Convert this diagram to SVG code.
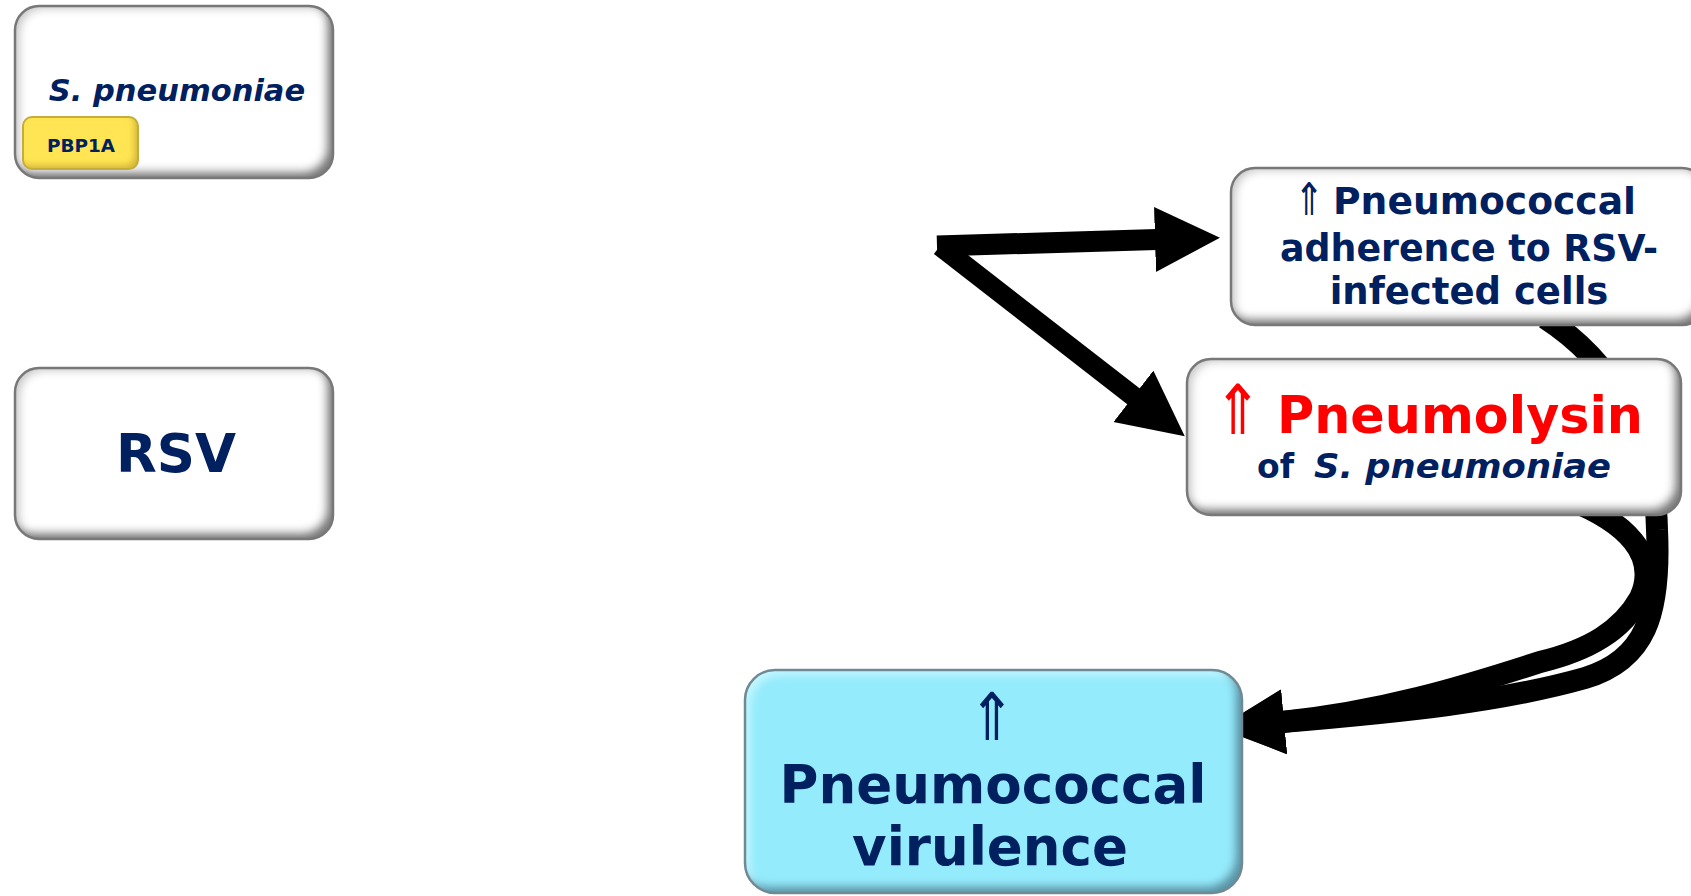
<svg xmlns="http://www.w3.org/2000/svg" width="1691" height="896" viewBox="0 0 1691 896">
<defs>
<style>
.t{font-family:"DejaVu Sans",Verdana,sans-serif;font-weight:bold;fill:#002060}
.it{font-style:italic}
.red{fill:#ff0000}
.ar{font-family:"DejaVu Sans",sans-serif;font-weight:normal}
.bw{fill:#ffffff;filter:url(#bevelW)}
.bc{fill:#94ebfc;filter:url(#bevelC)}
.bo{fill:none;stroke:#787878;stroke-width:2.5}
.boc{fill:none;stroke:#6f8a94;stroke-width:2.5}
.conn{fill:none;stroke:#000;stroke-linejoin:miter}
</style>
<filter id="bevelW" x="-5%" y="-5%" width="110%" height="110%">
<feGaussianBlur in="SourceAlpha" stdDeviation="4" result="blur"/>
<feOffset in="blur" dx="-7" dy="-7" result="off"/>
<feComposite in="SourceAlpha" in2="off" operator="out" result="rim"/>
<feFlood flood-color="#7a7a7a"/>
<feComposite in2="rim" operator="in" result="shade"/>
<feOffset in="blur" dx="5" dy="3" result="off2"/>
<feComposite in="SourceAlpha" in2="off2" operator="out" result="rim2"/>
<feFlood flood-color="#c8c8c8"/>
<feComposite in2="rim2" operator="in" result="shade2"/>
<feMerge><feMergeNode in="SourceGraphic"/><feMergeNode in="shade2"/><feMergeNode in="shade"/></feMerge>
</filter>
<filter id="bevelC" x="-5%" y="-5%" width="110%" height="110%">
<feGaussianBlur in="SourceAlpha" stdDeviation="4" result="blur"/>
<feOffset in="blur" dx="-7" dy="-7" result="off"/>
<feComposite in="SourceAlpha" in2="off" operator="out" result="rim"/>
<feFlood flood-color="#5a93a6"/>
<feComposite in2="rim" operator="in" result="shade"/>
<feOffset in="blur" dx="5" dy="5" result="off2"/>
<feComposite in="SourceAlpha" in2="off2" operator="out" result="rim2"/>
<feFlood flood-color="#c4f7ff"/>
<feComposite in2="rim2" operator="in" result="shade2"/>
<feMerge><feMergeNode in="SourceGraphic"/><feMergeNode in="shade2"/><feMergeNode in="shade"/></feMerge>
</filter>
<filter id="bevelY" x="-5%" y="-5%" width="110%" height="110%">
<feGaussianBlur in="SourceAlpha" stdDeviation="3" result="blur"/>
<feOffset in="blur" dx="-4" dy="-4" result="off"/>
<feComposite in="SourceAlpha" in2="off" operator="out" result="rim"/>
<feFlood flood-color="#d4b63a"/>
<feComposite in2="rim" operator="in" result="shade"/>
<feMerge><feMergeNode in="SourceGraphic"/><feMergeNode in="shade"/></feMerge>
</filter>
<marker id="head" markerUnits="userSpaceOnUse" viewBox="0 0 66 66" markerWidth="66" markerHeight="66" refX="2" refY="32.5" orient="auto">
<path d="M0,0 L65,32.5 L0,65 Z" fill="#000"/>
</marker>
</defs>
<rect width="1691" height="896" fill="#ffffff"/>

<g id="connectors">
<path class="conn" stroke-width="21" d="M937,246 L1157,239.5" marker-end="url(#head)"/>
<path class="conn" stroke-width="20" d="M940,246 L1135,397.5" marker-end="url(#head)"/>
<path class="conn" stroke-width="22" d="M1545,318 C1610,360 1655,430 1657,530 C1661,615 1645,660 1585,678 C1500,702 1400,712 1282,722" marker-end="url(#head)"/>
<path class="conn" stroke-width="22" d="M1570,500 C1625,522 1660,555 1640,598 C1622,630 1590,650 1540,662 C1460,688 1380,712 1282,722" marker-end="url(#head)"/>
</g>

<g id="node-spneumoniae">
<rect class="bw" x="15" y="6" width="318" height="172" rx="24"/>
<rect class="bo" x="15" y="6" width="318" height="172" rx="24"/>
<text class="t it" x="177" y="101" font-size="30.5" text-anchor="middle">S. pneumoniae</text>
<g id="node-pbp1a">
<rect x="23" y="117" width="115" height="52" rx="9" fill="#ffe552" filter="url(#bevelY)"/>
<rect x="23" y="117" width="115" height="52" rx="9" fill="none" stroke="#c4ad3c" stroke-width="2"/>
<text class="t" x="81" y="151.5" font-size="18.4" text-anchor="middle">PBP1A</text>
</g>
</g>

<g id="node-rsv">
<rect class="bw" x="15" y="368" width="318" height="171" rx="24"/>
<rect class="bo" x="15" y="368" width="318" height="171" rx="24"/>
<text class="t" x="176" y="472" font-size="53" text-anchor="middle">RSV</text>
</g>

<g id="node-adherence">
<rect class="bw" x="1231" y="168" width="475" height="157" rx="24"/>
<rect class="bo" x="1231" y="168" width="475" height="157" rx="24"/>
<text class="t ar" transform="translate(1309,215) scale(0.8,1)" font-size="45" text-anchor="middle">⇑</text>
<text class="t" x="1333" y="214" font-size="37.5" textLength="303" lengthAdjust="spacingAndGlyphs">Pneumococcal</text>
<text class="t" x="1469" y="261" font-size="37" text-anchor="middle" textLength="378" lengthAdjust="spacingAndGlyphs">adherence to RSV-</text>
<text class="t" x="1469" y="304" font-size="37" text-anchor="middle">infected cells</text>
</g>

<g id="node-pneumolysin">
<rect class="bw" x="1187" y="359" width="494" height="156" rx="24"/>
<rect class="bo" x="1187" y="359" width="494" height="156" rx="24"/>
<text class="t ar red" transform="translate(1238,434) scale(0.85,1)" font-size="69" text-anchor="middle">⇑</text>
<text class="t red" x="1277" y="433" font-size="51" textLength="366" lengthAdjust="spacingAndGlyphs">Pneumolysin</text>
<text class="t" x="1257" y="478" font-size="33">of</text>
<text class="t it" x="1314" y="478" font-size="33.5" textLength="297" lengthAdjust="spacingAndGlyphs">S. pneumoniae</text>
</g>

<g id="node-virulence">
<rect class="bc" x="745" y="670" width="497" height="223" rx="30"/>
<rect class="boc" x="745" y="670" width="497" height="223" rx="30"/>
<text class="t ar" transform="translate(992,740) scale(0.85,1)" font-size="66" text-anchor="middle">⇑</text>
<text class="t" x="993" y="803" font-size="53" text-anchor="middle" textLength="427" lengthAdjust="spacingAndGlyphs">Pneumococcal</text>
<text class="t" x="990" y="865" font-size="53" text-anchor="middle">virulence</text>
</g>
</svg>
